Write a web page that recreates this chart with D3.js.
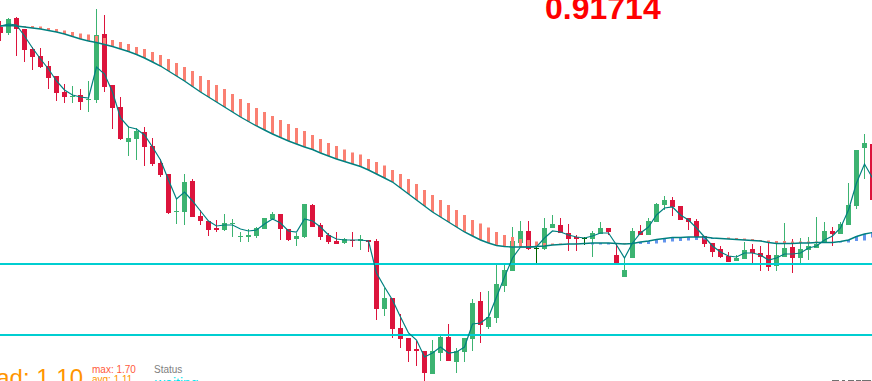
<!DOCTYPE html>
<html>
<head>
<meta charset="utf-8">
<script src="https://cdn.jsdelivr.net/npm/d3@7"></script>
<style>
  html, body { margin: 0; padding: 0; background: #fff; overflow: hidden; }
  svg { display: block; font-family: "Liberation Sans", Arial, sans-serif; }
</style>
</head>
<body>
<svg id="chart"></svg>
<script>
// candles, oldest first
const opens = [
  0.92446, 0.92434, 0.92464, 0.92442, 0.92402, 0.92388, 0.92368, 0.92348, 0.92316, 0.92306,
  0.92310, 0.92300, 0.92300, 0.92432, 0.92330, 0.92286, 0.92216, 0.92222, 0.92236, 0.92208,
  0.92174, 0.92152, 0.92076, 0.92076, 0.92138, 0.92068, 0.92058, 0.92044, 0.92040, 0.92052,
  0.92026, 0.92026, 0.92028, 0.92042, 0.92062, 0.92072, 0.92042, 0.92022, 0.92026, 0.92090,
  0.92050, 0.92030, 0.92018, 0.92014, 0.92020, 0.92018, 0.92020, 0.92018, 0.91882, 0.91904,
  0.91844, 0.91824, 0.91802, 0.91798, 0.91752, 0.91794, 0.91826, 0.91776, 0.91796, 0.91822,
  0.91898, 0.91846, 0.91864, 0.91928, 0.91958, 0.92014, 0.92038, 0.92004, 0.92002, 0.92044,
  0.92050, 0.92034, 0.92026, 0.92024, 0.92022, 0.92032, 0.92044, 0.91990, 0.91946, 0.91984,
  0.92038, 0.92030, 0.92056, 0.92090, 0.92100, 0.92088, 0.92064, 0.92058, 0.92028, 0.92014,
  0.92002, 0.91988, 0.91978, 0.91982, 0.92002, 0.91994, 0.91990, 0.91968, 0.91986, 0.92006,
  0.91984, 0.92000, 0.92004, 0.92014, 0.92038, 0.92032, 0.92050, 0.92088, 0.92204, 0.92212
];
const highs = [
  0.92458, 0.92464, 0.92466, 0.92442, 0.92406, 0.92404, 0.92378, 0.92348, 0.92332, 0.92328,
  0.92322, 0.92338, 0.92482, 0.92470, 0.92330, 0.92306, 0.92248, 0.92244, 0.92246, 0.92224,
  0.92182, 0.92152, 0.92102, 0.92152, 0.92142, 0.92080, 0.92058, 0.92060, 0.92072, 0.92062,
  0.92036, 0.92042, 0.92046, 0.92064, 0.92076, 0.92072, 0.92042, 0.92034, 0.92092, 0.92092,
  0.92054, 0.92034, 0.92036, 0.92024, 0.92036, 0.92030, 0.92020, 0.92022, 0.91924, 0.91904,
  0.91872, 0.91824, 0.91818, 0.91798, 0.91820, 0.91828, 0.91852, 0.91804, 0.91824, 0.91902,
  0.91916, 0.91918, 0.91972, 0.91970, 0.92046, 0.92058, 0.92058, 0.92006, 0.92064, 0.92070,
  0.92064, 0.92052, 0.92030, 0.92026, 0.92038, 0.92056, 0.92044, 0.92012, 0.91984, 0.92044,
  0.92050, 0.92064, 0.92094, 0.92108, 0.92106, 0.92088, 0.92064, 0.92062, 0.92028, 0.92014,
  0.92008, 0.91996, 0.91990, 0.92016, 0.92012, 0.92008, 0.92014, 0.92016, 0.92054, 0.92022,
  0.92024, 0.92026, 0.92066, 0.92056, 0.92046, 0.92056, 0.92134, 0.92200, 0.92232, 0.92212
];
const lows = [
  0.92418, 0.92430, 0.92388, 0.92376, 0.92360, 0.92364, 0.92322, 0.92298, 0.92294, 0.92294,
  0.92280, 0.92276, 0.92294, 0.92316, 0.92242, 0.92220, 0.92188, 0.92180, 0.92168, 0.92168,
  0.92146, 0.92072, 0.92052, 0.92050, 0.92066, 0.92050, 0.92028, 0.92036, 0.92038, 0.92026,
  0.92016, 0.92016, 0.92024, 0.92042, 0.92060, 0.92020, 0.92018, 0.92008, 0.92024, 0.92046,
  0.92020, 0.92012, 0.92012, 0.92012, 0.92006, 0.92000, 0.91996, 0.91860, 0.91868, 0.91824,
  0.91804, 0.91776, 0.91768, 0.91738, 0.91752, 0.91778, 0.91778, 0.91754, 0.91776, 0.91798,
  0.91814, 0.91842, 0.91854, 0.91916, 0.91958, 0.92006, 0.92000, 0.91974, 0.92000, 0.92044,
  0.92034, 0.91998, 0.91998, 0.92010, 0.91986, 0.92032, 0.92030, 0.91972, 0.91946, 0.91984,
  0.92030, 0.92030, 0.92056, 0.92080, 0.92068, 0.92060, 0.92040, 0.92026, 0.92006, 0.91986,
  0.91984, 0.91976, 0.91978, 0.91982, 0.91974, 0.91958, 0.91958, 0.91958, 0.91986, 0.91954,
  0.91974, 0.91980, 0.92004, 0.92014, 0.92008, 0.92032, 0.92050, 0.92082, 0.92142, 0.92100
];
const closes = [
  0.92434, 0.92462, 0.92442, 0.92400, 0.92386, 0.92366, 0.92344, 0.92314, 0.92306, 0.92308,
  0.92296, 0.92302, 0.92430, 0.92326, 0.92284, 0.92222, 0.92224, 0.92238, 0.92206, 0.92172,
  0.92150, 0.92074, 0.92078, 0.92136, 0.92066, 0.92058, 0.92040, 0.92040, 0.92054, 0.92054,
  0.92028, 0.92030, 0.92044, 0.92064, 0.92072, 0.92042, 0.92020, 0.92028, 0.92092, 0.92046,
  0.92026, 0.92016, 0.92012, 0.92022, 0.92018, 0.92022, 0.92016, 0.91882, 0.91904, 0.91842,
  0.91822, 0.91798, 0.91798, 0.91754, 0.91798, 0.91826, 0.91778, 0.91798, 0.91824, 0.91894,
  0.91850, 0.91866, 0.91932, 0.91960, 0.92018, 0.92038, 0.92002, 0.92004, 0.92044, 0.92052,
  0.92034, 0.92022, 0.92022, 0.92024, 0.92034, 0.92044, 0.92036, 0.91972, 0.91960, 0.92038,
  0.92030, 0.92058, 0.92092, 0.92100, 0.92086, 0.92060, 0.92056, 0.92026, 0.92012, 0.91996,
  0.91986, 0.91976, 0.91984, 0.92000, 0.91994, 0.91986, 0.91966, 0.91990, 0.92004, 0.91984,
  0.92002, 0.92008, 0.92012, 0.92038, 0.92032, 0.92052, 0.92090, 0.92200, 0.92214, 0.92100
];

// moving averages
const fastMA = [
  0.92448, 0.92452, 0.92450, 0.92428, 0.92404, 0.92382, 0.92362, 0.92338, 0.92320, 0.92310,
  0.92306, 0.92304, 0.92366, 0.92352, 0.92316, 0.92264, 0.92246, 0.92242, 0.92230, 0.92206,
  0.92180, 0.92140, 0.92102, 0.92116, 0.92098, 0.92078, 0.92058, 0.92048, 0.92050, 0.92050,
  0.92042, 0.92038, 0.92040, 0.92052, 0.92062, 0.92054, 0.92038, 0.92036, 0.92062, 0.92058,
  0.92046, 0.92030, 0.92022, 0.92020, 0.92020, 0.92020, 0.92018, 0.91954, 0.91926, 0.91900,
  0.91866, 0.91834, 0.91820, 0.91786, 0.91794, 0.91806, 0.91794, 0.91796, 0.91806, 0.91852,
  0.91854, 0.91866, 0.91906, 0.91946, 0.91984, 0.92006, 0.92006, 0.92006, 0.92024, 0.92038,
  0.92036, 0.92030, 0.92026, 0.92024, 0.92028, 0.92034, 0.92034, 0.92010, 0.91984, 0.92014,
  0.92034, 0.92046, 0.92070, 0.92084, 0.92086, 0.92070, 0.92060, 0.92044, 0.92026, 0.92008,
  0.91996, 0.91988, 0.91986, 0.91994, 0.91994, 0.91990, 0.91980, 0.91984, 0.91992, 0.91992,
  0.91994, 0.92004, 0.92008, 0.92020, 0.92028, 0.92044, 0.92080, 0.92134, 0.92172, 0.92144
];
const slowMA = [
  0.92448, 0.92449, 0.92448, 0.92446, 0.92444, 0.92442, 0.92439, 0.92436, 0.92432, 0.92427,
  0.92422, 0.92418, 0.92415, 0.92411, 0.92407, 0.92402, 0.92397, 0.92391, 0.92384, 0.92376,
  0.92368, 0.92358, 0.92348, 0.92338, 0.92327, 0.92316, 0.92306, 0.92296, 0.92286, 0.92276,
  0.92266, 0.92257, 0.92248, 0.92240, 0.92232, 0.92225, 0.92218, 0.92212, 0.92206, 0.92201,
  0.92194, 0.92188, 0.92182, 0.92177, 0.92172, 0.92167, 0.92160, 0.92152, 0.92144, 0.92136,
  0.92124, 0.92112, 0.92100, 0.92088, 0.92076, 0.92066, 0.92056, 0.92046, 0.92036, 0.92028,
  0.92020, 0.92014, 0.92009, 0.92007, 0.92006, 0.92006, 0.92006, 0.92007, 0.92008, 0.92010,
  0.92011, 0.92012, 0.92012, 0.92013, 0.92014, 0.92014, 0.92014, 0.92013, 0.92012, 0.92013,
  0.92016, 0.92018, 0.92021, 0.92023, 0.92025, 0.92025, 0.92026, 0.92026, 0.92026, 0.92024,
  0.92023, 0.92022, 0.92021, 0.92020, 0.92019, 0.92018, 0.92015, 0.92013, 0.92013, 0.92013,
  0.92014, 0.92014, 0.92015, 0.92015, 0.92015, 0.92017, 0.92020, 0.92027, 0.92032, 0.92035
];
// second cloud line (histogram drawn between it and slowMA)
const cloudLine = [
  0.92448, 0.92449, 0.92448, 0.92448, 0.92448, 0.92447, 0.92444, 0.92442, 0.92439, 0.92436,
  0.92433, 0.92431, 0.92428, 0.92424, 0.92420, 0.92416, 0.92412, 0.92406, 0.92402, 0.92396,
  0.92390, 0.92382, 0.92374, 0.92366, 0.92358, 0.92348, 0.92340, 0.92330, 0.92322, 0.92312,
  0.92302, 0.92294, 0.92284, 0.92276, 0.92268, 0.92260, 0.92252, 0.92244, 0.92238, 0.92230,
  0.92222, 0.92214, 0.92208, 0.92201, 0.92195, 0.92191, 0.92182, 0.92176, 0.92169, 0.92160,
  0.92152, 0.92142, 0.92132, 0.92120, 0.92110, 0.92100, 0.92090, 0.92080, 0.92070, 0.92060,
  0.92053, 0.92045, 0.92036, 0.92030, 0.92026, 0.92022, 0.92020, 0.92017, 0.92014, 0.92013,
  0.92013, 0.92013, 0.92013, 0.92012, 0.92011, 0.92011, 0.92011, 0.92012, 0.92014, 0.92012,
  0.92012, 0.92012, 0.92013, 0.92015, 0.92017, 0.92018, 0.92019, 0.92020, 0.92021, 0.92022,
  0.92023, 0.92025, 0.92024, 0.92023, 0.92022, 0.92020, 0.92019, 0.92018, 0.92018, 0.92017,
  0.92017, 0.92017, 0.92017, 0.92016, 0.92015, 0.92015, 0.92015, 0.92018, 0.92019, 0.92025
];

const levels = [0.91972, 0.91830];
const bidText = "0.91714";
const spreadText = "Spread: 1.10";
const maxText = "max: 1.70";
const avgText = "avg: 1.11";

const width = 872, height = 381;

const svg = d3.select("#chart")
  .attr("width", width)
  .attr("height", height);

svg.append("rect").attr("width", width).attr("height", height).attr("fill", "#fff");

const x = d3.scaleLinear()
  .domain([0, closes.length - 1])
  .range([0.5, 0.5 + 8 * (closes.length - 1)]);

const y = d3.scaleLinear()
  .domain([0.91738, 0.92500])
  .range([height, 0]);

const candles = closes.map((c, i) => ({ i, o: opens[i], h: highs[i], l: lows[i], c }));
const candleColor = d => d.c > d.o ? "#3cb371" : d.c < d.o ? "#dc143c" : "#006400";

// wicks
svg.append("g").selectAll("line")
  .data(candles)
  .join("line")
  .attr("x1", d => x(d.i)).attr("x2", d => x(d.i))
  .attr("y1", d => y(d.h)).attr("y2", d => y(d.l))
  .attr("stroke", candleColor)
  .attr("stroke-width", 1);

// bodies
svg.append("g").selectAll("rect")
  .data(candles.filter(d => d.o !== d.c))
  .join("rect")
  .attr("x", d => x(d.i) - 2.5)
  .attr("width", 5)
  .attr("y", d => y(Math.max(d.o, d.c)))
  .attr("height", d => Math.max(1, Math.abs(y(d.o) - y(d.c))))
  .attr("fill", candleColor);

// doji ticks
svg.append("g").selectAll("line")
  .data(candles.filter(d => d.o === d.c))
  .join("line")
  .attr("x1", d => x(d.i) - 2.5).attr("x2", d => x(d.i) + 2.5)
  .attr("y1", d => y(d.o) + 0.5).attr("y2", d => y(d.o) + 0.5)
  .attr("stroke", candleColor)
  .attr("stroke-width", 1);

// cloud histogram
svg.append("g").selectAll("rect")
  .data(slowMA.map((s, i) => ({ i, s, t: cloudLine[i] })).filter(d => d.s !== d.t))
  .join("rect")
  .attr("x", d => x(d.i) - 1.5)
  .attr("width", 3)
  .attr("y", d => y(Math.max(d.s, d.t)))
  .attr("height", d => Math.abs(y(d.s) - y(d.t)))
  .attr("fill", d => d.t > d.s ? "#fa8072" : "#6495ed");

// horizontal levels
svg.append("g").selectAll("line")
  .data(levels)
  .join("line")
  .attr("x1", 0).attr("x2", width)
  .attr("y1", d => y(d)).attr("y2", d => y(d))
  .attr("stroke", "#00ced1")
  .attr("stroke-width", 2);

// moving averages
const line = d3.line().x((d, i) => x(i)).y(d => y(d));

svg.append("path")
  .datum(slowMA)
  .attr("d", line)
  .attr("fill", "none")
  .attr("stroke", "#008080")
  .attr("stroke-width", 1.4);

svg.append("path")
  .datum(fastMA)
  .attr("d", line)
  .attr("fill", "none")
  .attr("stroke", "#008080")
  .attr("stroke-width", 1.2);

// labels
svg.append("text")
  .attr("x", 545).attr("y", 19)
  .style("font-size", "32px")
  .style("font-weight", "bold")
  .attr("fill", "#ff0000")
  .text(bidText);

svg.append("text")
  .attr("x", 83).attr("y", 386)
  .attr("text-anchor", "end")
  .style("font-size", "24px")
  .attr("fill", "#ff9500")
  .text(spreadText);

svg.append("text")
  .attr("x", 92).attr("y", 373)
  .style("font-size", "10px")
  .attr("fill", "#ff5a3c")
  .text(maxText);

svg.append("text")
  .attr("x", 92).attr("y", 383)
  .style("font-size", "10px")
  .attr("fill", "#ff9500")
  .text(avgText);

svg.append("text")
  .attr("x", 154).attr("y", 373)
  .style("font-size", "10px")
  .attr("fill", "#808080")
  .text("Status");

svg.append("text")
  .attr("x", 155).attr("y", 388)
  .style("font-size", "14px")
  .attr("fill", "#00e5ee")
  .text("waiting...");

// bottom-right marker, cut off by the frame
svg.append("line")
  .attr("x1", 832).attr("x2", 872)
  .attr("y1", 380.5).attr("y2", 380.5)
  .attr("stroke", "#707070")
  .attr("stroke-dasharray", "7,3,3,3,6,2,5,1,9");
</script>
</body>
</html>
